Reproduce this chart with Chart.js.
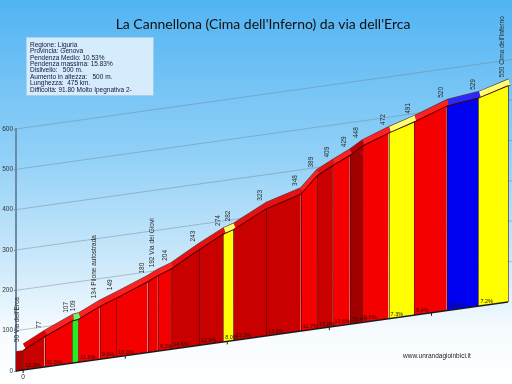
<!DOCTYPE html>
<html>
<head>
<meta charset="utf-8">
<script src="https://cdn.jsdelivr.net/npm/chart.js@4.4.0/dist/chart.umd.min.js"></script>
<style>
  html, body { margin: 0; padding: 0; background: #fff; }
  #profile { display: block; }
</style>
</head>
<body>
<canvas id="profile" width="512" height="384"></canvas>
<script>
// ── Data ──────────────────────────────────────────────────────
const TITLE = "La Cannellona (Cima dell'Inferno) da via dell'Erca";
const SITE  = 'www.unrandagioinbici.it';

const infoLines = [
  'Regione: Liguria',
  'Provincia: Genova',
  'Pendenza Medio: 10.53%',
  'Pendenza massima: 15.83%',
  'Dislivello:   500 m.',
  'Aumento in altezza:   500 m.',
  'Lunghezza:  475 km.',
  'Difficoltà: 91.80 Molto Ipegnativa 2-',
];

const distanceKm = [0, 0.21, 0.48, 0.54, 0.75, 0.91, 1.22, 1.32, 1.45, 1.72, 1.96, 2.06,
                    2.38, 2.72, 2.88, 3.03, 3.20, 3.32, 3.58, 3.83, 4.15, 4.46, 4.75];
const elevation  = [50, 77, 107, 109, 134, 149, 180, 192, 204, 243, 274, 282,
                    323, 348, 389, 409, 429, 448, 472, 491, 520, 529, 550];
const pointNames = ["Via dell'Erca", '', '', '', 'Pilone autostrada', '', '', 'Via dei Giovi',
                    '', '', '', '', '', '', '', '', '', '', '', '', '', '', "Cima dell'Inferno"];
const gradeLabels = ['12.3%', '11.5%', '', '11.6%', '9.6%', '10.0%', '', '8.2%', '14.6%', '12.9%',
                     '8.0%', '13.2%', '13.2%', '11.7%', '15.8%', '13.6%', '15.4%', '9.0%', '7.3%',
                     '9.4%', '3.2%', '7.2%'];
const kmTicks = [0, 1, 2, 3, 4];

// ── Styles ────────────────────────────────────────────────────
const SEG_COLORS = ['#c80000', '#f40000', '#22ee22', '#f40000', '#f00000', '#f40000', '#ee0000',
                    '#f40000', '#c80000', '#c80000', '#ffff00', '#c80000', '#c80000', '#f40000',
                    '#c80000', '#f40000', '#a00000', '#f40000', '#ffff00', '#f40000', '#0000f0',
                    '#ffff00'];
const TOP_COLORS = ['#e00000', '#ff2020', '#60ff60', '#ff2020', '#ff1a1a', '#ff2020', '#ff1a1a',
                    '#ff2020', '#e81010', '#e81010', '#ffff70', '#e81010', '#e81010', '#ff2020',
                    '#e81010', '#ff2020', '#c00000', '#ff2020', '#ffff70', '#ff2020', '#2a2aff',
                    '#ffff70'];
const SHEAR = -0.14;           // oblique slant of the floor
const LABEL_FONT = '"Liberation Sans", Arial, sans-serif';

// ── Oblique projection + decorations ─────────────────────────
const obliquePlugin = {
  id: 'oblique',
  beforeDraw(chart) {
    const { ctx, width, height } = chart;
    const bg = ctx.createLinearGradient(0, 0, 0, height);
    bg.addColorStop(0,    '#52b4f3');
    bg.addColorStop(0.4,  '#90d0f7');
    bg.addColorStop(0.72, '#d4ecfb');
    bg.addColorStop(0.86, '#f6fbfe');
    bg.addColorStop(1,    '#ffffff');
    ctx.save();
    ctx.fillStyle = bg;
    ctx.fillRect(0, 0, width, height);

    // title
    ctx.fillStyle = '#111';
    ctx.font = '14px Lato, "Open Sans", sans-serif';
    ctx.textAlign = 'center';
    ctx.textBaseline = 'alphabetic';
    ctx.fillText(TITLE, 263, 29, 308);

    // info box
    ctx.fillStyle = 'rgba(218,237,252,0.96)';
    ctx.fillRect(26, 37, 127, 58);
    ctx.strokeStyle = 'rgba(170,205,235,0.9)';
    ctx.lineWidth = 1;
    ctx.strokeRect(26.5, 37.5, 127, 58);
    ctx.fillStyle = '#14143c';
    ctx.font = '6.5px ' + LABEL_FONT;
    ctx.textAlign = 'left';
    ctx.textBaseline = 'middle';
    infoLines.forEach((t, i) => ctx.fillText(t, 30, 45 + i * 6.4));

    // site
    ctx.fillStyle = '#222';
    ctx.font = '6.5px ' + LABEL_FONT;
    ctx.fillText(SITE, 403, 356);
    ctx.restore();
  },
  beforeDatasetsDraw(chart) {
    const { ctx, chartArea: a, scales: { y } } = chart;
    // slanted elevation grid
    ctx.save();
    ctx.strokeStyle = 'rgba(110,130,150,0.45)';
    ctx.lineWidth = 1;
    y.ticks.forEach((t) => {
      if (t.value === 0) return;
      const py = y.getPixelForValue(t.value);
      ctx.beginPath();
      ctx.moveTo(a.left, py);
      ctx.lineTo(chart.width, py + SHEAR * (chart.width - a.left));
      ctx.stroke();
    });
    ctx.restore();
    // shear everything that follows
    ctx.save();
    ctx.transform(1, SHEAR, 0, 1, 0, -SHEAR * a.left);
  },
  beforeDatasetDraw(chart, args) {
    if (args.index > 0) {
      chart.ctx.save();
      chart.ctx.translate(1.5, -3.5);
    }
  },
  afterDatasetDraw(chart, args) {
    if (args.index > 0) chart.ctx.restore();
  },
  afterDatasetsDraw(chart) {
    const { ctx, chartArea: a, scales: { x, yFront } } = chart;

    // front side face
    const x0 = x.getPixelForValue(distanceKm[0]);
    const top0 = yFront.getPixelForValue(elevation[0]);
    ctx.fillStyle = '#b00000';
    ctx.fillRect(a.left, top0, x0 - a.left, a.bottom - top0);

    // separators between sections
    ctx.strokeStyle = 'rgba(60,0,0,0.55)';
    ctx.lineWidth = 1;
    ctx.beginPath();
    for (let i = 0; i < distanceKm.length; i++) {
      const px = Math.round(x.getPixelForValue(distanceKm[i])) + 0.5;
      ctx.moveTo(px, yFront.getPixelForValue(elevation[i]));
      ctx.lineTo(px, a.bottom);
    }
    ctx.stroke();

    // floor line + km ticks
    ctx.strokeStyle = '#1a1a1a';
    ctx.lineWidth = 1.5;
    ctx.beginPath();
    ctx.moveTo(a.left, a.bottom);
    ctx.lineTo(a.right, a.bottom);
    ctx.stroke();
    ctx.lineWidth = 1;
    ctx.beginPath();
    kmTicks.forEach((k) => {
      const px = x.getPixelForValue(k);
      ctx.moveTo(px, a.bottom);
      ctx.lineTo(px, a.bottom + 3);
    });
    ctx.stroke();
    ctx.restore(); // end shear

    // elevation labels (rotated)
    const slant = (px) => SHEAR * (px - a.left);
    ctx.save();
    ctx.fillStyle = '#2a2a2a';
    ctx.font = '6.5px ' + LABEL_FONT;
    ctx.textAlign = 'left';
    ctx.textBaseline = 'middle';
    elevation.forEach((e, i) => {
      const lx = x.getPixelForValue(distanceKm[i]) - 5.5;
      const ly = yFront.getPixelForValue(e) + slant(lx) - 9;
      const text = pointNames[i] ? `${e} ${pointNames[i]}` : String(e);
      ctx.save();
      ctx.translate(lx, ly);
      ctx.rotate(-Math.PI / 2);
      ctx.fillText(text, 0, 0);
      ctx.restore();
    });

    // gradient labels along the floor
    ctx.fillStyle = '#2a1000';
    ctx.font = '5.5px ' + LABEL_FONT;
    ctx.textBaseline = 'alphabetic';
    gradeLabels.forEach((t, i) => {
      if (!t) return;
      const px = x.getPixelForValue(distanceKm[i]) + 2;
      ctx.fillText(t, px, a.bottom + slant(px) - 3);
    });

    // km label
    ctx.fillStyle = '#222';
    ctx.font = '6.5px ' + LABEL_FONT;
    ctx.textAlign = 'center';
    ctx.fillText('0', x.getPixelForValue(0), a.bottom + 8);
    ctx.restore();
  },
};

// ── Chart ─────────────────────────────────────────────────────
const points = distanceKm.map((d, i) => ({ x: d, y: elevation[i] }));

new Chart(document.getElementById('profile'), {
  type: 'line',
  data: {
    datasets: [
      {
        label: 'Profilo',
        data: points,
        yAxisID: 'yFront',
        fill: 'origin',
        backgroundColor: SEG_COLORS[0],
        borderColor: '#4a0000',
        borderWidth: 1,
        pointRadius: 0,
        tension: 0,
        clip: false,
        segment: { backgroundColor: (c) => SEG_COLORS[c.p0DataIndex] },
      },
      {
        label: 'Sommità',
        data: points,
        yAxisID: 'yFront',
        fill: false,
        borderColor: TOP_COLORS[0],
        borderWidth: 6,
        pointRadius: 0,
        tension: 0,
        clip: false,
        segment: { borderColor: (c) => TOP_COLORS[c.p0DataIndex] },
      },
      {
        label: 'Bordo',
        data: points,
        yAxisID: 'yFront',
        fill: false,
        borderColor: 'rgba(70,0,0,0.7)',
        borderWidth: 7.5,
        pointRadius: 0,
        tension: 0,
        clip: false,
      },
    ],
  },
  options: {
    responsive: false,
    animation: false,
    devicePixelRatio: 1,
    layout: { padding: { top: 129, bottom: 13, left: 0, right: 4 } },
    plugins: {
      legend: { display: false },
      tooltip: { enabled: false },
    },
    scales: {
      x: { type: 'linear', min: -0.07, max: 4.75, display: false },
      y: {
        position: 'left',
        min: 0,
        max: 600,
        afterFit: (s) => { s.width = 16; },
        ticks: { stepSize: 100, color: '#333', padding: 1, font: { family: 'Liberation Sans', size: 6.5 } },
        grid: { drawOnChartArea: false, tickLength: 2, color: '#6a8aa5' },
        border: { color: '#6a8aa5', width: 2 },
      },
      yFront: { min: 0, max: 615, display: false },
    },
  },
  plugins: [obliquePlugin],
});
</script>
</body>
</html>
